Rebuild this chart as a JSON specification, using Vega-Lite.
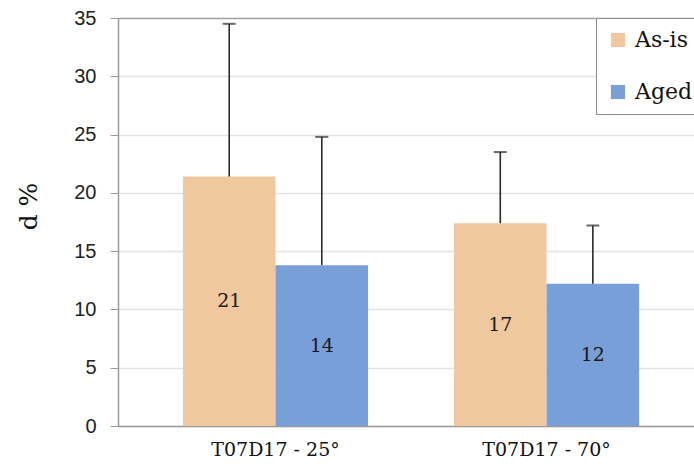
{
  "$schema": "https://vega.github.io/schema/vega-lite/v6.json",
  "width": 576,
  "height": 408,
  "autosize": {"type": "none"},
  "padding": {"left": 118, "top": 18, "right": 0, "bottom": 44},
  "background": "white",
  "data": {
    "values": [
      {"cond": "T07D17 - 25°", "series": "As-is", "value": 21.4, "upper": 34.5, "label": "21"},
      {"cond": "T07D17 - 25°", "series": "Aged", "value": 13.8, "upper": 24.8, "label": "14"},
      {"cond": "T07D17 - 70°", "series": "As-is", "value": 17.4, "upper": 23.5, "label": "17"},
      {"cond": "T07D17 - 70°", "series": "Aged", "value": 12.2, "upper": 17.2, "label": "12"}
    ]
  },
  "encoding": {
    "x": {
      "field": "cond", "type": "nominal", "sort": null,
      "scale": {"paddingInner": 0.317, "paddingOuter": 0.221, "align": 0.542},
      "axis": {
        "title": null, "labelAngle": 0, "labelFont": "DejaVu Serif", "labelFontSize": 19,
        "labelColor": "#111", "labelPadding": 14, "ticks": false, "domainColor": "#9a9a9a", "domainWidth": 1.5
      }
    },
    "xOffset": {"field": "series", "type": "nominal", "sort": ["As-is", "Aged"], "scale": {"paddingInner": 0, "paddingOuter": 0}}
  },
  "layer": [
    {
      "mark": {"type": "bar"},
      "encoding": {
        "y": {
          "field": "value", "type": "quantitative",
          "scale": {"domain": [0, 35], "nice": false},
          "axis": {
            "values": [0, 5, 10, 15, 20, 25, 30, 35],
            "title": "d %", "titleFont": "DejaVu Serif", "titleFontSize": 25, "titleFontWeight": "normal",
            "titleColor": "#111", "titleX": -90, "titleY": 188, "titleAngle": -90,
            "titleAlign": "center", "titleBaseline": "middle",
            "labelFont": "Liberation Sans", "labelFontSize": 20, "labelColor": "#222", "labelPadding": 14,
            "tickSize": 8, "tickColor": "#9a9a9a", "domainColor": "#9a9a9a", "domainWidth": 1.5,
            "gridColor": {"condition": {"test": "datum.value == 35", "value": "#a0a0a0"}, "value": "#e2e2e2"},
            "gridWidth": 1.5
          }
        },
        "color": {
          "field": "series", "type": "nominal", "sort": ["As-is", "Aged"],
          "scale": {"domain": ["As-is", "Aged"], "range": ["#EFC89F", "#799FD8"]},
          "legend": {
            "title": null, "orient": "none", "legendX": 478, "legendY": 0,
            "symbolType": "square", "symbolSize": 200, "symbolStrokeWidth": 0, "symbolOpacity": 1,
            "labelFont": "DejaVu Serif", "labelFontSize": 22, "labelColor": "#111",
            "labelOffset": 6, "rowPadding": 30, "padding": 11,
            "strokeColor": "#8a8a8a", "fillColor": "white"
          }
        }
      }
    },
    {
      "mark": {"type": "rule", "color": "#2a2a2a", "strokeWidth": 1.6},
      "encoding": {
        "y": {"field": "value", "type": "quantitative"},
        "y2": {"field": "upper"}
      }
    },
    {
      "mark": {"type": "tick", "color": "#2a2a2a", "thickness": 2, "size": 13, "orient": "horizontal"},
      "encoding": {
        "y": {"field": "upper", "type": "quantitative"}
      }
    },
    {
      "mark": {
        "type": "text", "font": "DejaVu Serif", "fontSize": 19, "color": "#1a1a1a", "baseline": "middle",
        "dy": {"expr": "(scale('y', 0) - scale('y', datum.value)) / 2"}
      },
      "encoding": {
        "y": {"field": "value", "type": "quantitative"},
        "text": {"field": "label"}
      }
    }
  ]
}
